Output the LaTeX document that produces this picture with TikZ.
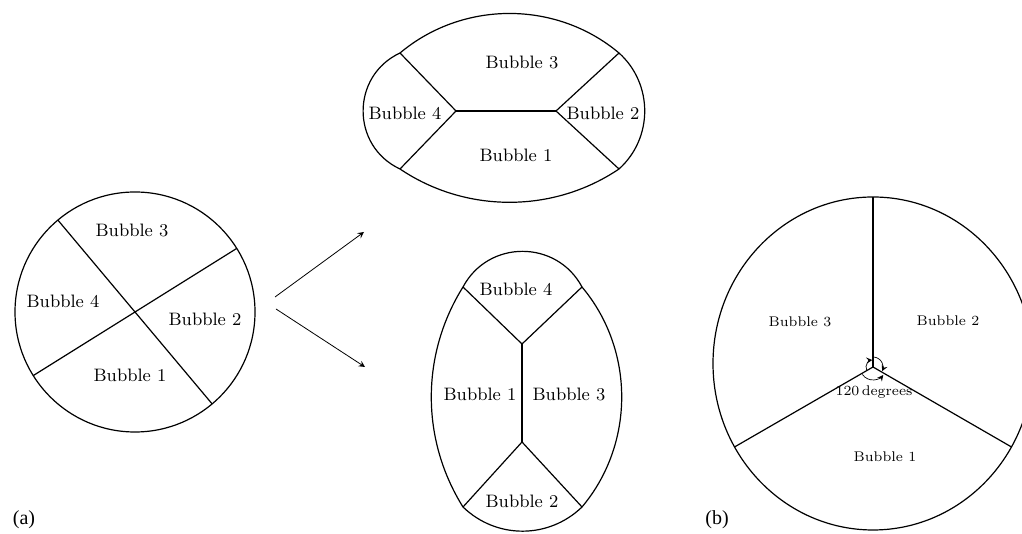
\documentclass[tikz,border=0pt]{standalone}
\usepackage{fontspec}
\newfontfamily\capfont{Liberation Serif}
\usetikzlibrary{arrows, calc}

\begin{document}
\begin{tikzpicture}[
        x=0.5pt, y=0.5pt,
        film/.style={line width=0.6pt},
        flow/.style={line width=0.4pt, -stealth},
        mark_arc/.style={line width=0.35pt, -stealth},
        bubble/.style={font=\small, inner sep=1pt},
        bubble_small/.style={font=\scriptsize, inner sep=1pt},
        panel/.style={font=\capfont, inner sep=1pt}
    ]
    \clip (0,0) rectangle (1022,534);

    % (a) four bubbles in one circle
    \coordinate (c_center) at (135,222);
    \coordinate (c_a1) at ($(c_center)+(130:120)$);
    \coordinate (c_a2) at ($(c_center)+(-50:120)$);
    \coordinate (c_b1) at ($(c_center)+(32:120)$);
    \coordinate (c_b2) at ($(c_center)+(212:120)$);
    \draw[film] (c_center) circle[radius=60pt];
    \draw[film] (c_a1) -- (c_a2);
    \draw[film] (c_b1) -- (c_b2);
    \node[bubble] (c_bub3) at (132,304) {Bubble 3};
    \node[bubble] (c_bub4) at (63,233) {Bubble 4};
    \node[bubble] (c_bub2) at (205,215) {Bubble 2};
    \node[bubble] (c_bub1) at (130,159) {Bubble 1};

    % arrows to the two outcomes
    \coordinate (arr_up_start) at (275,237);
    \coordinate (arr_up_end) at (364,302);
    \coordinate (arr_dn_start) at (276,225);
    \coordinate (arr_dn_end) at (365,167);
    \draw[flow] (arr_up_start) -- (arr_up_end);
    \draw[flow] (arr_dn_start) -- (arr_dn_end);

    % horizontal cluster
    \coordinate (h_ul) at (400,481);
    \coordinate (h_ur) at (619,481);
    \coordinate (h_lr) at (619,365);
    \coordinate (h_ll) at (400,365);
    \coordinate (h_il) at (456,423);
    \coordinate (h_ir) at (556,423);
    \draw[film] (h_ul) to[out=40, in=140, looseness=0.96] (h_ur)
        to[out=-42, in=42, looseness=1.02] (h_lr)
        to[out=-146, in=-34, looseness=0.93] (h_ll)
        to[out=155, in=-155, looseness=1.2] (h_ul);
    \draw[film] (h_ul) -- (h_il) -- (h_ll);
    \draw[film] (h_il) -- (h_ir);
    \draw[film] (h_ur) -- (h_ir) -- (h_lr);
    \node[bubble] (h_bub3) at (522,472) {Bubble 3};
    \node[bubble] (h_bub4) at (405,421) {Bubble 4};
    \node[bubble] (h_bub2) at (603,421) {Bubble 2};
    \node[bubble] (h_bub1) at (516,379) {Bubble 1};

    % vertical cluster
    \coordinate (v_ul) at (463,247);
    \coordinate (v_ur) at (582,247);
    \coordinate (v_lr) at (582,27);
    \coordinate (v_ll) at (463,27);
    \coordinate (v_tj) at (522,190);
    \coordinate (v_bj) at (522,92);
    \draw[film] (v_ul) to[out=62, in=118, looseness=1.16] (v_ur)
        to[out=-50, in=50, looseness=0.96] (v_lr)
        to[out=-136, in=-44] (v_ll)
        to[out=122, in=-122, looseness=0.93] (v_ul);
    \draw[film] (v_ul) -- (v_tj) -- (v_ur);
    \draw[film] (v_tj) -- (v_bj);
    \draw[film] (v_ll) -- (v_bj) -- (v_lr);
    \node[bubble] (v_bub4) at (516,245) {Bubble 4};
    \node[bubble] (v_bub1) at (480,140) {Bubble 1};
    \node[bubble] (v_bub3) at (569,140) {Bubble 3};
    \node[bubble] (v_bub2) at (522,33) {Bubble 2};

    % (b) three bubbles, 120 degree junction
    \coordinate (r_center) at (873,170.5);
    \coordinate (r_junction) at (873,167);
    \coordinate (r_top) at (873,337);
    \coordinate (r_left) at (734.5,87);
    \coordinate (r_right) at (1011.5,87);
    \draw[film] (r_center) ellipse[x radius=80pt, y radius=83.25pt];
    \draw[film] (r_junction) -- (r_top);
    \draw[film] (r_junction) -- (r_left);
    \draw[film] (r_junction) -- (r_right);
    \draw[mark_arc] ($(r_junction)+(85:10)$) arc[start angle=85, end angle=-25, radius=5pt];
    \draw[mark_arc] ($(r_junction)+(215:13)$) arc[start angle=215, end angle=322, radius=6.5pt];
    \draw[mark_arc] ($(r_junction)+(205:7)$) arc[start angle=205, end angle=95, radius=3.5pt];
    \node[bubble_small] (r_bub3) at (800,212) {Bubble 3};
    \node[bubble_small] (r_bub2) at (948,213) {Bubble 2};
    \node[bubble_small] (r_bub1) at (885,77) {Bubble 1};
    \node[bubble_small] (r_angle) at (874,142) {120\,degrees};

    \node[panel] (panel_a) at (24,14) {(a)};
    \node[panel] (panel_b) at (717,14) {(b)};

\end{tikzpicture}
\end{document}
